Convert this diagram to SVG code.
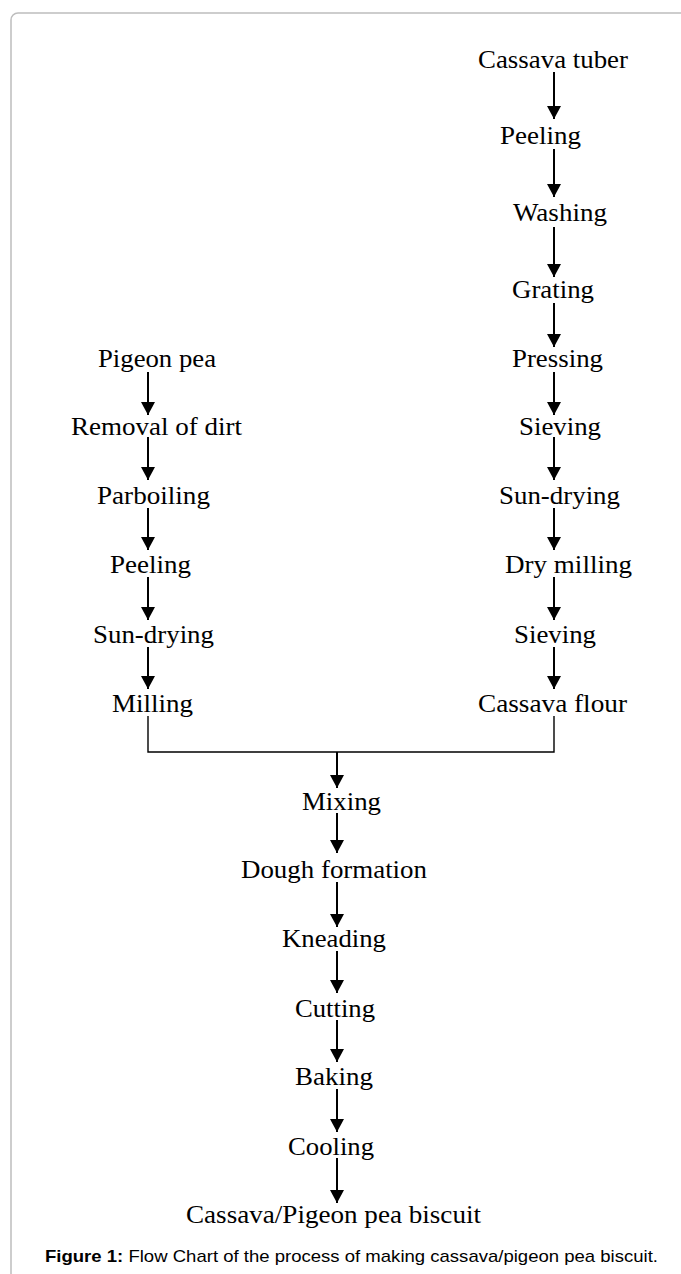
<svg xmlns="http://www.w3.org/2000/svg" width="681" height="1274" viewBox="0 0 681 1274">
<style>
.lbl{font-family:"Liberation Serif","Times New Roman",serif;font-size:26px;fill:#000}
.ln{stroke:#000;stroke-width:2;fill:none}
.mg{stroke:#000;stroke-width:1.4;fill:none}
.cap{font-family:"Liberation Sans",Arial,sans-serif;font-size:17px;fill:#000}
</style>
<defs>
<marker id="ah" viewBox="0 0 13 14" refX="13" refY="7" markerWidth="13" markerHeight="14" markerUnits="userSpaceOnUse" orient="auto">
<path d="M0,0 L13,7 L0,14 Z" fill="#000"/>
</marker>
</defs>
<rect x="11" y="13" width="720" height="1300" rx="7" ry="7" fill="#fff" stroke="#bdbdbd" stroke-width="1.5"/>
<g id="connectors">
<path class="ln" d="M554,72 V119" marker-end="url(#ah)"/>
<path class="ln" d="M554,149 V197" marker-end="url(#ah)"/>
<path class="ln" d="M554,227 V277" marker-end="url(#ah)"/>
<path class="ln" d="M554,303 V347" marker-end="url(#ah)"/>
<path class="ln" d="M554,372 V415" marker-end="url(#ah)"/>
<path class="ln" d="M554,437 V480" marker-end="url(#ah)"/>
<path class="ln" d="M554,508 V550" marker-end="url(#ah)"/>
<path class="ln" d="M554,577 V620" marker-end="url(#ah)"/>
<path class="ln" d="M554,647 V689" marker-end="url(#ah)"/>
<path class="ln" d="M148,372 V415" marker-end="url(#ah)"/>
<path class="ln" d="M148,437 V480" marker-end="url(#ah)"/>
<path class="ln" d="M148,508 V550" marker-end="url(#ah)"/>
<path class="ln" d="M148,577 V620" marker-end="url(#ah)"/>
<path class="ln" d="M148,647 V689" marker-end="url(#ah)"/>
<path class="mg" d="M148,716 V752 H554 V716"/>
<path class="ln" d="M337,752 V788" marker-end="url(#ah)"/>
<path class="ln" d="M337,813 V853" marker-end="url(#ah)"/>
<path class="ln" d="M337,882 V927" marker-end="url(#ah)"/>
<path class="ln" d="M337,951 V993" marker-end="url(#ah)"/>
<path class="ln" d="M337,1020 V1062" marker-end="url(#ah)"/>
<path class="ln" d="M337,1089 V1132" marker-end="url(#ah)"/>
<path class="ln" d="M337,1158 V1203" marker-end="url(#ah)"/>
</g>
<g id="cassava-tuber"><text class="lbl" x="478" y="68" textLength="150" lengthAdjust="spacingAndGlyphs">Cassava tuber</text></g>
<g id="peeling-r"><text class="lbl" x="500" y="144" textLength="81" lengthAdjust="spacingAndGlyphs">Peeling</text></g>
<g id="washing"><text class="lbl" x="513" y="221" textLength="94" lengthAdjust="spacingAndGlyphs">Washing</text></g>
<g id="grating"><text class="lbl" x="512" y="298" textLength="82" lengthAdjust="spacingAndGlyphs">Grating</text></g>
<g id="pressing"><text class="lbl" x="512" y="367" textLength="91" lengthAdjust="spacingAndGlyphs">Pressing</text></g>
<g id="sieving-1"><text class="lbl" x="519" y="435" textLength="82" lengthAdjust="spacingAndGlyphs">Sieving</text></g>
<g id="sun-drying-r"><text class="lbl" x="499" y="504" textLength="121" lengthAdjust="spacingAndGlyphs">Sun-drying</text></g>
<g id="dry-milling"><text class="lbl" x="505" y="573" textLength="127" lengthAdjust="spacingAndGlyphs">Dry milling</text></g>
<g id="sieving-2"><text class="lbl" x="514" y="643" textLength="82" lengthAdjust="spacingAndGlyphs">Sieving</text></g>
<g id="cassava-flour"><text class="lbl" x="478" y="712" textLength="149" lengthAdjust="spacingAndGlyphs">Cassava flour</text></g>
<g id="pigeon-pea"><text class="lbl" x="98" y="367" textLength="118" lengthAdjust="spacingAndGlyphs">Pigeon pea</text></g>
<g id="removal-of-dirt"><text class="lbl" x="71" y="435" textLength="171" lengthAdjust="spacingAndGlyphs">Removal of dirt</text></g>
<g id="parboiling"><text class="lbl" x="97" y="504" textLength="113" lengthAdjust="spacingAndGlyphs">Parboiling</text></g>
<g id="peeling-l"><text class="lbl" x="110" y="573" textLength="81" lengthAdjust="spacingAndGlyphs">Peeling</text></g>
<g id="sun-drying-l"><text class="lbl" x="93" y="643" textLength="121" lengthAdjust="spacingAndGlyphs">Sun-drying</text></g>
<g id="milling"><text class="lbl" x="112" y="712" textLength="81" lengthAdjust="spacingAndGlyphs">Milling</text></g>
<g id="mixing"><text class="lbl" x="302" y="810" textLength="79" lengthAdjust="spacingAndGlyphs">Mixing</text></g>
<g id="dough-formation"><text class="lbl" x="241" y="878" textLength="186" lengthAdjust="spacingAndGlyphs">Dough formation</text></g>
<g id="kneading"><text class="lbl" x="282" y="947" textLength="104" lengthAdjust="spacingAndGlyphs">Kneading</text></g>
<g id="cutting"><text class="lbl" x="295" y="1017" textLength="80" lengthAdjust="spacingAndGlyphs">Cutting</text></g>
<g id="baking"><text class="lbl" x="295" y="1085" textLength="78" lengthAdjust="spacingAndGlyphs">Baking</text></g>
<g id="cooling"><text class="lbl" x="288" y="1155" textLength="86" lengthAdjust="spacingAndGlyphs">Cooling</text></g>
<g id="biscuit"><text class="lbl" x="186" y="1223" textLength="295" lengthAdjust="spacingAndGlyphs">Cassava/Pigeon pea biscuit</text></g>
<g id="caption"><text class="cap" x="45" y="1262" textLength="613" lengthAdjust="spacingAndGlyphs"><tspan font-weight="bold">Figure 1:</tspan> Flow Chart of the process of making cassava/pigeon pea biscuit.</text></g>
</svg>
